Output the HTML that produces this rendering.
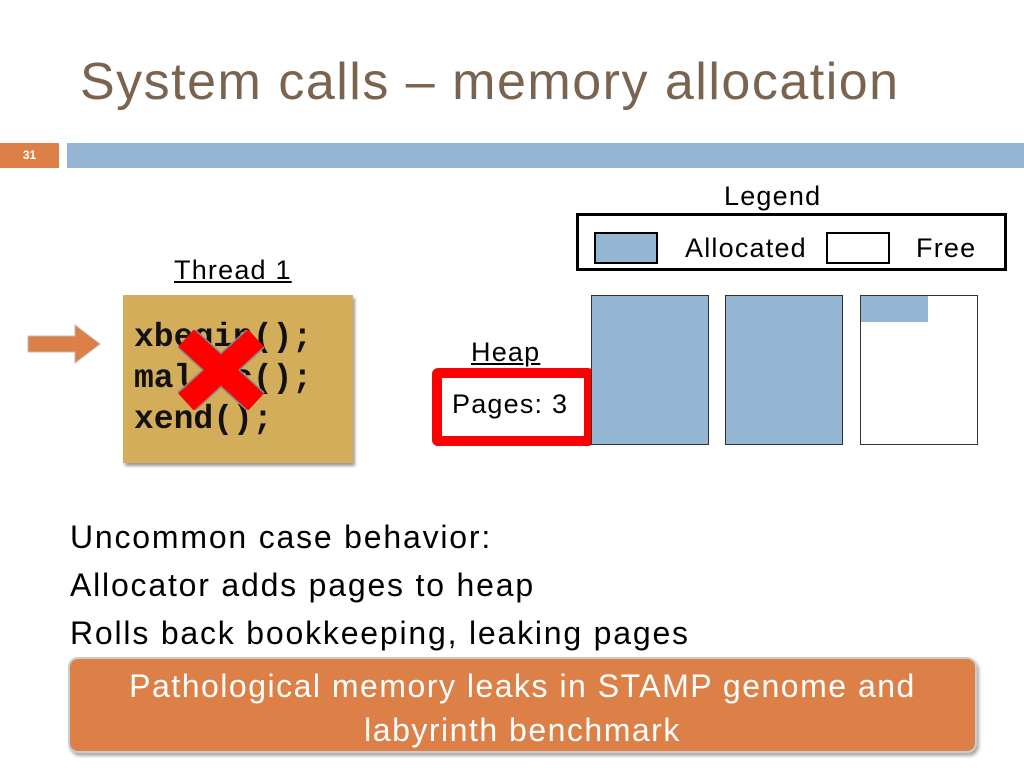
<!DOCTYPE html>
<html><head><style>
body{margin:0;width:1024px;height:768px;background:#fff;position:relative;overflow:hidden;font-family:"Liberation Sans",sans-serif;}
.a{position:absolute;}
.mono{font-family:"Liberation Mono",monospace;font-weight:bold;font-size:33px;line-height:41px;color:#111;}
.l{font-size:27px;letter-spacing:1.2px;}
</style></head><body>
<div class="a" style="left:80px;top:52px;font-size:52px;letter-spacing:1.5px;color:#7a6450;">System calls – memory allocation</div>
<div class="a" style="left:0;top:143px;width:59px;height:25px;background:#dd8047;color:#fff;font-size:12px;font-weight:bold;line-height:25px;text-align:center;">31</div>
<div class="a" style="left:67px;top:143px;width:957px;height:25px;background:#94b6d2;"></div>

<div class="a l" style="left:724px;top:181px;">Legend</div>
<div class="a" style="left:576px;top:213px;width:431px;height:58px;border:3px solid #000;box-sizing:border-box;"></div>
<div class="a" style="left:594px;top:232px;width:64px;height:32px;background:#94b6d2;border:2px solid #000;box-sizing:border-box;"></div>
<div class="a l" style="left:685px;top:233px;">Allocated</div>
<div class="a" style="left:826px;top:232px;width:64px;height:32px;border:2px solid #000;box-sizing:border-box;"></div>
<div class="a l" style="left:916px;top:233px;">Free</div>

<div class="a l" style="left:174px;top:255px;text-decoration:underline;">Thread 1</div>
<div class="a" style="left:123px;top:295px;width:230px;height:168px;background:#d4ad5b;box-shadow:2px 3px 3px #999;"></div>
<div class="a mono" style="left:134px;top:317px;">xbegin();<br>malloc();<br>xend();</div>
<svg class="a" style="left:150px;top:330px" width="120" height="80"><g stroke="#888" stroke-width="26"><line x1="36" y1="8" x2="106" y2="72"/><line x1="106" y1="8" x2="36" y2="72"/></g><g stroke="#f00" stroke-width="23"><line x1="36" y1="8" x2="106" y2="72"/><line x1="106" y1="8" x2="36" y2="72"/></g></svg>
<svg class="a" style="left:25px;top:322px" width="80" height="50"><polygon points="3,14 50,14 50,3 75,22 50,41 50,30 3,30" fill="#dd8047" stroke="#bbb" stroke-width="1"/></svg>

<div class="a l" style="left:471px;top:337px;text-decoration:underline;">Heap</div>
<div class="a" style="left:432px;top:368px;width:162px;height:78px;border:10px solid #f00;border-radius:6px;box-sizing:border-box;background:#fff;"></div>
<div class="a l" style="left:452px;top:389px;">Pages: 3</div>
<div class="a" style="left:591px;top:295px;width:118px;height:150px;background:#94b6d2;border:1px solid #333;box-sizing:border-box;"></div>
<div class="a" style="left:725px;top:295px;width:118px;height:150px;background:#94b6d2;border:1px solid #333;box-sizing:border-box;"></div>
<div class="a" style="left:860px;top:295px;width:118px;height:150px;background:#fff;border:1px solid #333;box-sizing:border-box;"></div>
<div class="a" style="left:861px;top:296px;width:67px;height:26px;background:#94b6d2;"></div>

<div class="a" style="left:70px;top:513px;font-size:32px;letter-spacing:1.8px;line-height:48px;">Uncommon case behavior:<br>Allocator adds pages to heap<br>Rolls back bookkeeping, leaking pages</div>
<div class="a" style="left:68px;top:657px;width:909px;height:96px;background:#dd8047;border:2px solid #ccc;border-radius:10px;box-sizing:border-box;box-shadow:2px 3px 3px #aaa;color:#fff;font-size:32px;letter-spacing:1.5px;line-height:44px;text-align:center;padding-top:5px;">Pathological memory leaks in STAMP genome and<br>labyrinth benchmark</div>
</body></html>
